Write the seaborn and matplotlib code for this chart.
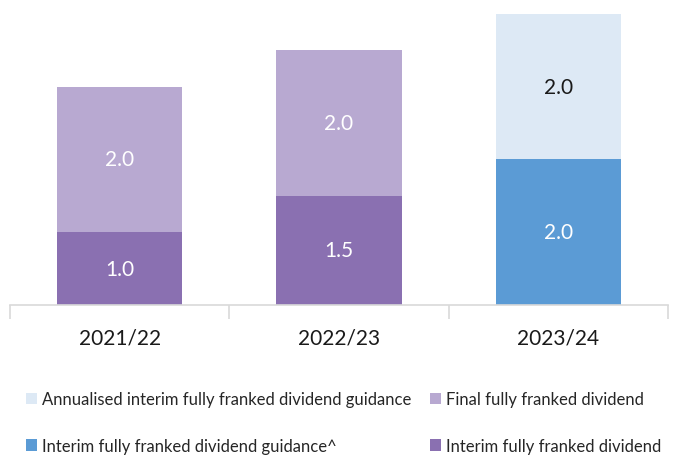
import numpy as np
import pandas as pd
import seaborn as sns
import matplotlib.pyplot as plt
from matplotlib.patches import Patch

# === Data ===
years = ["2021/22", "2022/23", "2023/24"]
bottom_values = [1.0, 1.5, 2.0]
bottom_kind = ["Interim fully franked dividend", "Interim fully franked dividend",
               "Interim fully franked dividend guidance^"]
top_values = [2.0, 2.0, 2.0]
top_kind = ["Final fully franked dividend", "Final fully franked dividend",
            "Annualised interim fully franked dividend guidance"]

colors = {
    "Annualised interim fully franked dividend guidance": "#DDE9F5",
    "Final fully franked dividend": "#B8A9D1",
    "Interim fully franked dividend guidance^": "#5B9BD5",
    "Interim fully franked dividend": "#8A70B1",
}
label_colors = {
    "Annualised interim fully franked dividend guidance": "#1a1a1a",
    "Final fully franked dividend": "white",
    "Interim fully franked dividend guidance^": "white",
    "Interim fully franked dividend": "white",
}
legend_order = ["Annualised interim fully franked dividend guidance",
                "Interim fully franked dividend guidance^",
                "Final fully franked dividend",
                "Interim fully franked dividend"]

df = pd.DataFrame({"year": years, "bottom": bottom_values, "bottom_kind": bottom_kind,
                   "top": top_values, "top_kind": top_kind})
df["total"] = df["bottom"] + df["top"]

sns.set_style("white")
plt.rcParams["font.family"] = ["Lato", "DejaVu Sans"]

fig = plt.figure(figsize=(6.79, 4.56), dpi=100)
ax = fig.add_axes([10 / 679, 1 - 306 / 456, 658 / 679, 306 / 456])

# stacked: draw totals first (top colour), then bottom segments over them
sns.barplot(data=df, x="year", y="total", hue="top_kind", palette=colors,
            dodge=False, width=0.57, saturation=1, legend=False, linewidth=0, ax=ax)
sns.barplot(data=df, x="year", y="bottom", hue="bottom_kind", palette=colors,
            dodge=False, width=0.57, saturation=1, legend=False, linewidth=0, ax=ax)

for i, row in df.iterrows():
    ax.text(i, row["bottom"] / 2, f"{row['bottom']:.1f}", ha="center", va="center",
            fontsize=15, color=label_colors[row["bottom_kind"]])
    ax.text(i, row["bottom"] + row["top"] / 2, f"{row['top']:.1f}", ha="center",
            va="center", fontsize=15, color=label_colors[row["top_kind"]])

ax.set_xlim(-0.5, 2.5)
ax.set_ylim(0, 4.206)
ax.set_xlabel("")
ax.set_ylabel("")
ax.set_yticks([])
for s in ["top", "right", "left"]:
    ax.spines[s].set_visible(False)
ax.spines["bottom"].set_color("#D9D9D9")
ax.spines["bottom"].set_linewidth(1.2)

ax.set_xticks([0, 1, 2])
ax.set_xticklabels(years, fontsize=15, color="#1a1a1a")
ax.set_xticks([-0.5, 0.5, 1.5, 2.5], minor=True)
ax.tick_params(axis="x", which="major", length=0, pad=16)
ax.tick_params(axis="x", which="minor", length=10, width=1.2, color="#D9D9D9", bottom=True)

handles = [Patch(facecolor=colors[k], edgecolor="none") for k in legend_order]
fig.legend(handles, legend_order, ncol=2, loc="upper left",
           bbox_to_anchor=(26 / 679, 1 - 392 / 456), frameon=False,
           handlelength=0.65, handleheight=0.65, handletextpad=0.3,
           labelspacing=1.85, columnspacing=1.15, borderpad=0, borderaxespad=0,
           prop={"size": 12})

fig.savefig("out.png", dpi=100)
